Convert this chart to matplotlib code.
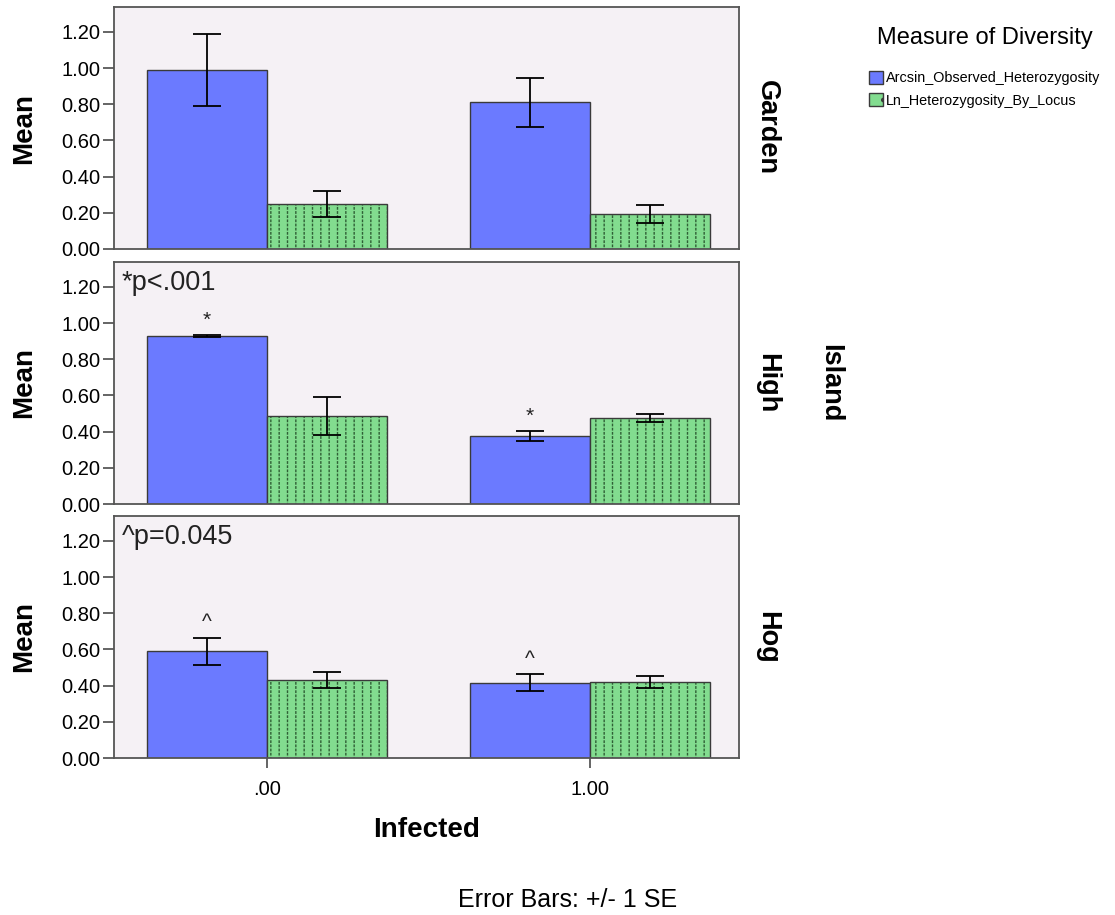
import matplotlib
matplotlib.use('Agg')
import matplotlib.pyplot as plt
from matplotlib.patches import Patch
import numpy as np

plt.rcParams['font.family'] = ['Liberation Sans', 'DejaVu Sans']
plt.rcParams['hatch.linewidth'] = 1.0

# data
sites = ['Garden', 'High', 'Hog']
infected = ['.00', '1.00']
arcsin_mean = [[0.99, 0.81], [0.93, 0.375], [0.59, 0.415]]
arcsin_se = [[0.20, 0.133], [0.004, 0.028], [0.075, 0.047]]
ln_mean = [[0.248, 0.194], [0.487, 0.476], [0.431, 0.42]]
ln_se = [[0.072, 0.052], [0.105, 0.022], [0.044, 0.033]]
marks = [None, '*', '^']
notes = [None, '*p<.001', '^p=0.045']
series = ['Arcsin_Observed_Heterozygosity', 'Ln_Heterozygosity_By_Locus']

blue = '#6B7AFF'
green = '#82DC8F'
edge = '#3a3a3a'
panel_bg = '#F5F1F5'

W, H = 1115, 915
fig = plt.figure(figsize=(W / 100, H / 100), dpi=100)

left, right = 114, 739
tops = [7, 262, 516]
ph = 242
width = 0.372
x = np.arange(len(infected))

axes = []
for i, site in enumerate(sites):
    ax = fig.add_axes([left / W, 1 - (tops[i] + ph) / H, (right - left) / W, ph / H])
    axes.append(ax)
    ax.set_facecolor(panel_bg)

    ax.bar(x - width / 2, arcsin_mean[i], width, color=blue, edgecolor=edge,
           linewidth=1.0, zorder=2)
    # green bars with short vertical dashes
    ax.bar(x + width / 2, ln_mean[i], width, color=green, edgecolor='#2f5f35',
           linewidth=0, hatch='||', zorder=2)
    ax.bar(x + width / 2, ln_mean[i], width, fill=False, edgecolor=green,
           linewidth=0, hatch='----', zorder=2.1)
    ax.bar(x + width / 2, ln_mean[i], width, fill=False, edgecolor=edge,
           linewidth=1.0, zorder=2.2)

    ax.errorbar(x - width / 2, arcsin_mean[i], yerr=arcsin_se[i], fmt='none',
                ecolor='black', elinewidth=1.3, capsize=10, capthick=1.3, zorder=3)
    ax.errorbar(x + width / 2, ln_mean[i], yerr=ln_se[i], fmt='none',
                ecolor='black', elinewidth=1.3, capsize=10, capthick=1.3, zorder=3)

    if marks[i]:
        for j in range(len(infected)):
            top = arcsin_mean[i][j] + arcsin_se[i][j]
            ax.text(x[j] - width / 2, top + 0.03, marks[i], ha='center',
                    va='bottom', fontsize=15, color='#222222', zorder=4)
        ax.text(0.012, 0.965, notes[i], transform=ax.transAxes, ha='left',
                va='top', fontsize=19.5, color='#222222')

    ax.set_xlim(-0.474, 1.461)
    ax.set_ylim(0, 1.338)
    ax.set_yticks(np.arange(0, 1.21, 0.2))
    ax.set_yticklabels(['%.2f' % v for v in np.arange(0, 1.21, 0.2)], fontsize=14.5)
    ax.tick_params(axis='y', length=8, width=1.1, pad=2, color=edge)
    ax.set_xticks(x)
    if i == len(sites) - 1:
        ax.set_xticklabels(infected, fontsize=14.5)
        ax.tick_params(axis='x', length=7, width=1.1, pad=9, color=edge)
    else:
        ax.tick_params(axis='x', length=0, labelbottom=False)
    for sp in ax.spines.values():
        sp.set_color('#555555')
        sp.set_linewidth(1.3)

    yc = 1 - (tops[i] + ph / 2) / H
    fig.text(24 / W, yc, 'Mean', rotation=90, ha='center', va='center',
             fontsize=20, fontweight='bold')
    fig.text(767 / W, yc, site, rotation=-90, ha='center', va='center',
             fontsize=19.5, fontweight='bold')

fig.text(830 / W, 1 - (tops[1] + ph / 2) / H, 'Island', rotation=-90,
         ha='center', va='center', fontsize=19.5, fontweight='bold')
fig.text((left + right) / 2 / W, 1 - 830 / H, 'Infected', ha='center',
         va='center', fontsize=20, fontweight='bold')
fig.text(568 / W, 1 - 900 / H, 'Error Bars: +/- 1 SE', ha='center',
         va='center', fontsize=18)

handles = [Patch(facecolor=blue, edgecolor=edge, linewidth=1.0),
           Patch(facecolor=green, edgecolor=edge, linewidth=1.0, hatch='.')]
leg = fig.legend(handles, series, loc='upper left',
                 bbox_to_anchor=(856 / W, 1 - 14 / H), frameon=False,
                 title='Measure of Diversity', title_fontsize=17, fontsize=10.4,
                 handlelength=0.95, handleheight=0.95, handletextpad=0.25,
                 labelspacing=0.55)
leg._legend_box.sep = 16

fig.savefig('out.png', dpi=100)
